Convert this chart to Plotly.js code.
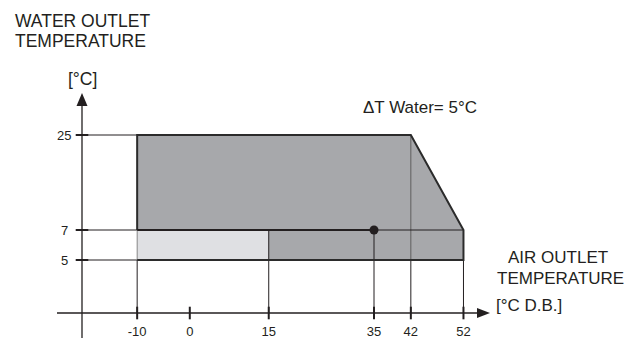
<!DOCTYPE html>
<html><head><meta charset="utf-8">
<script src="https://cdn.plot.ly/plotly-3.0.1.min.js"></script>
<style>html,body{margin:0;padding:0;background:#fff;}#chart{width:638px;height:340px;}</style>
</head><body><div id="chart"></div>
<script>
// ---------------- data ----------------
const xTicks = [-10, 0, 15, 35, 42, 52];
const xTickLabels = ['-10', '0', '15', '35', '42', '52'];
const yTicks = [5, 7, 25];
const yTickLabels = ['5', '7', '25'];
const envelopeX = [-10, -10, 42, 52, 52, -10];
const envelopeY = [5, 25, 25, 7, 5, 5];
const lowZoneX = [-10, 15, 15, -10, -10];
const lowZoneY = [5, 5, 7, 7, 5];
const pointX = [35];
const pointY = [7];
const guideX = [-10, 15, 35, 42, 52];
const guideTop = [5, 7, 7, 25, 5];

// ---------------- layout constants ----------------
const INK = '#231f20';
const FONT = 'Liberation Sans, Arial, sans-serif';
// broken y scale: the 5..7 band is stretched
function wy(v) { return v >= 7 ? v : 7 - (7 - v) * 2.842; }
const X_RANGE = [-36.06, 85.16];
const Y_RANGE = [-13.84, 50.58];
const Y_AXIS_X = -20.48;   // where the vertical axis crosses
const X_AXIS_W = -8.726;   // where the horizontal axis crosses (scaled units)
const X_LINE_START = -25.23, X_TIP = 57.04;
const Y_LINE_BOTTOM = -13.46, Y_TIP = 32.96;

const traces = [];
// envelope fill
traces.push({x: envelopeX, y: envelopeY.map(wy), type: 'scatter', mode: 'lines',
  fill: 'toself', fillcolor: '#a7a8ab', line: {width: 0}, hoverinfo: 'skip'});
// low zone fill
traces.push({x: lowZoneX, y: lowZoneY.map(wy), type: 'scatter', mode: 'lines',
  fill: 'toself', fillcolor: '#dfe0e3', line: {width: 0}, hoverinfo: 'skip'});
// vertical guides (below the envelope)
const vgx = [], vgy = [], vinDx = [], vinDy = [], vinGx = [], vinGy = [];
const bottomVal = Math.min(...envelopeY);
guideX.forEach((gx, i) => {
  vgx.push(gx, gx, null); vgy.push(X_AXIS_W, wy(bottomVal), null);
  if (guideTop[i] > bottomVal) {
    if (guideTop[i] > 7) { vinGx.push(gx, gx, null); vinGy.push(wy(bottomVal), wy(guideTop[i]), null); }
    else { vinDx.push(gx, gx, null); vinDy.push(wy(bottomVal), wy(guideTop[i]), null); }
  }
});
traces.push({x: vgx, y: vgy, type: 'scatter', mode: 'lines', line: {color: INK, width: 1}, hoverinfo: 'skip'});
traces.push({x: vinDx, y: vinDy, type: 'scatter', mode: 'lines', line: {color: INK, width: 1}, hoverinfo: 'skip'});
traces.push({x: vinGx, y: vinGy, type: 'scatter', mode: 'lines', line: {color: '#5e5e5e', width: 1}, hoverinfo: 'skip'});
// horizontal guides from the y axis to the envelope
const hgx = [], hgy = [];
yTicks.forEach(v => { hgx.push(Y_AXIS_X, envelopeX[0], null); hgy.push(wy(v), wy(v), null); });
traces.push({x: hgx, y: hgy, type: 'scatter', mode: 'lines', line: {color: INK, width: 1}, hoverinfo: 'skip'});
// thin continuation of the 7 line beyond the point
traces.push({x: [pointX[0], Math.max(...envelopeX)], y: [wy(pointY[0]), wy(pointY[0])], type: 'scatter', mode: 'lines',
  line: {color: INK, width: 1}, hoverinfo: 'skip'});
// left edge of the low zone (light grey)
traces.push({x: [lowZoneX[0], lowZoneX[3]], y: [wy(lowZoneY[0]), wy(lowZoneY[3])], type: 'scatter', mode: 'lines',
  line: {color: '#8a8a8a', width: 1}, hoverinfo: 'skip'});
// envelope outline (thick)
const outX = [lowZoneX[3]].concat(envelopeX.slice(1));
const outY = [lowZoneY[3]].concat(envelopeY.slice(1)).map(wy);
traces.push({x: outX, y: outY, type: 'scatter', mode: 'lines', line: {color: '#2b2b2b', width: 2}, hoverinfo: 'skip'});
// thick 7 line up to the point
traces.push({x: [lowZoneX[0], pointX[0]], y: [wy(pointY[0]), wy(pointY[0])], type: 'scatter', mode: 'lines',
  line: {color: INK, width: 2.2}, hoverinfo: 'skip'});
// tick marks
traces.push({x: xTicks, y: xTicks.map(() => X_AXIS_W), type: 'scatter', mode: 'markers',
  marker: {symbol: 'line-ns', size: 9, line: {color: INK, width: 2}}, hoverinfo: 'skip'});
traces.push({x: yTicks.map(() => Y_AXIS_X), y: yTicks.map(wy), type: 'scatter', mode: 'markers',
  marker: {symbol: 'line-ew', size: 9, line: {color: INK, width: 2}}, hoverinfo: 'skip'});
// operating point
traces.push({x: pointX, y: pointY.map(wy), type: 'scatter', mode: 'markers',
  marker: {color: INK, size: 9}, hoverinfo: 'skip'});

const ann = [];
function txt(text, x, y, xanchor, size) {
  ann.push({text: text, xref: 'paper', yref: 'paper', x: x / 638, y: 1 - y / 340,
    xanchor: xanchor, yanchor: 'middle', showarrow: false, font: {family: FONT, size: size, color: INK}});
}
txt('WATER OUTLET', 13, 20.5, 'left', 17.5);
txt('TEMPERATURE', 13, 40.5, 'left', 17.5);
txt('[°C]', 82, 78.5, 'center', 17.5);
txt('ΔT Water= 5°C', 419.5, 107, 'center', 17);
txt('AIR OUTLET', 558, 257.5, 'center', 17);
txt('TEMPERATURE', 560, 278, 'center', 17);
txt('[°C D.B.]', 494, 305.5, 'left', 17);
yTicks.forEach((v, i) => {
  ann.push({text: yTickLabels[i], xref: 'paper', yref: 'y', x: 64 / 638, y: wy(v),
    xanchor: 'center', yanchor: 'middle', showarrow: false, font: {family: FONT, size: 13, color: INK}});
});

const layout = {
  width: 638, height: 340, autosize: false,
  margin: {l: 0, r: 0, t: 0, b: 0},
  paper_bgcolor: '#fff', plot_bgcolor: '#fff', showlegend: false,
  font: {family: FONT, color: INK},
  xaxis: {range: X_RANGE, anchor: 'free', position: (340 - 313) / 340,
    tickvals: xTicks, ticktext: xTickLabels, ticks: '', showline: false, showgrid: false, zeroline: false,
    tickfont: {family: FONT, size: 13, color: INK}, ticklabelstandoff: 9, fixedrange: true},
  yaxis: {range: Y_RANGE, visible: false, fixedrange: true},
  shapes: [
    {type: 'line', xref: 'x', yref: 'y', x0: X_LINE_START, x1: X_TIP - 1, y0: X_AXIS_W, y1: X_AXIS_W,
      line: {color: INK, width: 1.3}},
    {type: 'line', xref: 'x', yref: 'y', x0: Y_AXIS_X, x1: Y_AXIS_X, y0: Y_LINE_BOTTOM, y1: Y_TIP - 1,
      line: {color: INK, width: 1.3}},
    {type: 'path', xref: 'x', yref: 'y', xsizemode: 'pixel', ysizemode: 'pixel', xanchor: X_TIP, yanchor: X_AXIS_W,
      path: 'M0,0 L-13,5 L-13,-5 Z', fillcolor: INK, line: {width: 0}},
    {type: 'path', xref: 'x', yref: 'y', xsizemode: 'pixel', ysizemode: 'pixel', xanchor: Y_AXIS_X, yanchor: Y_TIP,
      path: 'M0,0 L-5.5,-13 L5.5,-13 Z', fillcolor: INK, line: {width: 0}}
  ],
  annotations: ann
};
Plotly.newPlot('chart', traces, layout, {displayModeBar: false, staticPlot: true});
</script>
</body></html>
